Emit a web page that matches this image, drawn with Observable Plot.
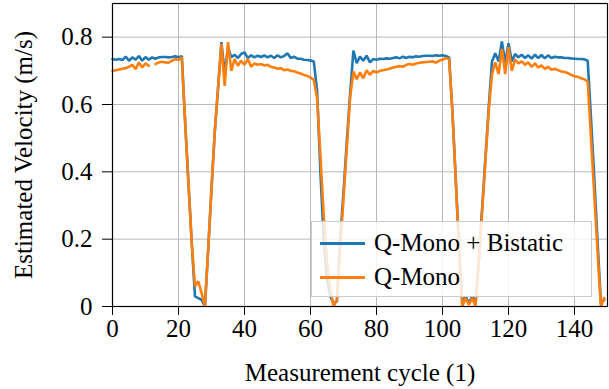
<!DOCTYPE html>
<html><head><meta charset="utf-8">
<script src="https://cdn.jsdelivr.net/npm/d3@7"></script>
<script src="https://cdn.jsdelivr.net/npm/@observablehq/plot@0.6"></script>
<style>
body{margin:0;background:#fff;}
#wrap{position:relative;width:609px;height:389px;}
#legend{position:absolute;left:311px;top:221px;width:281px;height:76px;background:rgba(255,255,255,0.82);border:1px solid #cccccc;box-sizing:border-box;}
.row{position:absolute;left:0;height:30px;display:flex;align-items:center;color:#000;}
.sw{display:inline-block;width:45px;height:3px;margin-left:8px;margin-right:9px;}
</style>
</head><body>
<div id="wrap"></div>
<script>
const FONT = "'Liberation Serif', serif";
const seriesNames = ["Q-Mono + Bistatic", "Q-Mono"];
const seriesColors = ["#1f77b4", "#ff7f0e"];
const xTicks = [0, 20, 40, 60, 80, 100, 120, 140];
const yTicks = [0, 0.2, 0.4, 0.6, 0.8];
const xLabel = "Measurement cycle (1)";
const yLabel = "Estimated Velocity (m/s)";

// Q-Mono + Bistatic, cycles 0..149
const monoBistatic = [
 0.735,0.733,0.735,0.732,0.742,0.730,0.740,0.733,0.744,0.730,0.741,0.733,0.740,0.736,0.740,0.741,0.741,0.740,0.741,0.743,0.740,0.743,
 0.55,0.37,0.19,0.03,0.025,0.02,0.0,0.17,0.35,0.52,0.65,0.785,
 0.69,0.77,0.740,0.748,0.738,0.750,0.755,0.738,0.746,0.740,0.745,0.741,0.746,0.740,0.745,0.738,0.746,0.740,0.744,0.752,0.738,0.742,0.736,0.736,0.733,0.732,0.731,0.728,
 0.64,0.40,0.20,0.08,0.03,0.01,0.015,0.20,0.34,0.49,0.63,
 0.76,0.723,0.742,0.730,0.745,0.725,0.735,0.733,0.736,0.735,0.737,0.736,0.738,0.740,0.737,0.742,0.738,0.742,0.740,0.743,0.742,0.744,0.745,0.745,0.744,0.746,0.745,0.746,0.744,0.740,
 0.58,0.38,0.18,0.01,0.03,0.01,0.03,0.01,0.14,0.29,0.44,0.59,
 0.728,0.752,0.728,0.787,0.723,0.782,0.728,0.750,0.740,0.748,0.738,0.746,0.736,0.748,0.738,0.747,0.737,0.746,0.738,0.742,0.740,0.740,0.738,0.738,0.737,0.736,0.735,0.735,0.734,0.730,
 0.56,0.38,0.19,0.01,0.02
];
// Q-Mono, cycles 0..149 (null = gap)
const mono = [
 0.700,0.702,0.704,0.706,0.708,0.712,0.718,0.705,0.725,0.710,0.722,0.715,null,0.720,0.725,0.727,0.725,0.724,0.730,0.735,0.732,0.740,
 0.55,0.37,0.19,0.06,0.075,0.04,0.0,0.17,0.35,0.52,0.65,0.78,
 0.655,0.785,0.700,0.735,0.715,0.730,0.718,0.735,0.712,0.722,0.718,0.720,0.716,0.718,0.712,0.710,0.706,0.708,0.702,0.704,0.700,0.699,0.695,0.692,0.688,0.685,0.680,0.673,
 0.62,0.45,0.27,0.13,0.05,0.0,0.02,0.17,0.32,0.47,0.62,
 0.698,0.675,0.695,0.678,0.702,0.688,0.700,0.695,0.700,0.702,0.704,0.706,0.710,0.712,0.714,0.712,0.718,0.720,0.718,0.722,0.724,0.725,0.726,0.727,0.728,0.724,0.730,0.733,0.738,0.735,
 0.58,0.38,0.17,0.0,0.025,0.005,0.025,0.0,0.13,0.28,0.43,0.58,
 0.690,0.725,0.690,0.765,0.690,0.770,0.700,0.733,0.722,0.728,0.718,0.725,0.712,0.722,0.710,0.716,0.706,0.712,0.703,0.706,0.702,0.698,0.697,0.693,0.688,0.684,0.682,0.678,0.675,0.668,
 0.50,0.33,0.16,0.0,0.025
];

const rows = [];
monoBistatic.forEach((v, i) => rows.push({c: i, v, s: seriesNames[0]}));
mono.forEach((v, i) => rows.push({c: i, v, s: seriesNames[1]}));

const chart = Plot.plot({
  width: 609, height: 389,
  marginLeft: 112, marginRight: 2, marginTop: 3, marginBottom: 83,
  style: {fontSize: "25px", color: "black", background: "white"},
  x: {domain: [0, 150]},
  y: {domain: [0, 0.9]},
  color: {domain: seriesNames, range: seriesColors},
  marks: [
    Plot.gridX(xTicks, {stroke: "#b8b8b8", strokeOpacity: 1, strokeWidth: 1}),
    Plot.gridY(yTicks, {stroke: "#b8b8b8", strokeOpacity: 1, strokeWidth: 1}),
    Plot.line(rows, {x: "c", y: "v", z: "s", stroke: "s", strokeWidth: 2.6, strokeLinejoin: "miter", defined: d => d.v != null}),
    Plot.axisX(xTicks, {tickSize: 9, tickPadding: 4, label: xLabel, labelAnchor: "center", labelArrow: "none", labelOffset: 74}),
    Plot.axisY(yTicks, {tickSize: 10, tickPadding: 10, tickFormat: d => d === 0 ? "0" : d.toFixed(1), label: yLabel, labelAnchor: "center", labelArrow: "none", labelOffset: 98}),
    Plot.frame({stroke: "black", strokeWidth: 1.2})
  ]
});
chart.style.setProperty("font-family", FONT, "important");
chart.querySelectorAll("text, tspan, g").forEach(el => { el.style.setProperty("font-family", FONT, "important"); });
const wrap = document.getElementById("wrap");
wrap.appendChild(chart);

const leg = document.createElement("div");
leg.id = "legend";
seriesNames.forEach((name, i) => {
  const r = document.createElement("div");
  r.className = "row";
  r.style.top = (6 + i * 34) + "px";
  r.style.setProperty("font-family", FONT, "important");
  r.style.fontSize = "25px";
  const sw = document.createElement("span");
  sw.className = "sw";
  sw.style.background = seriesColors[i];
  const t = document.createElement("span");
  t.textContent = name;
  t.style.setProperty("font-family", FONT, "important");
  r.appendChild(sw); r.appendChild(t);
  leg.appendChild(r);
});
wrap.appendChild(leg);
</script>
</body></html>
